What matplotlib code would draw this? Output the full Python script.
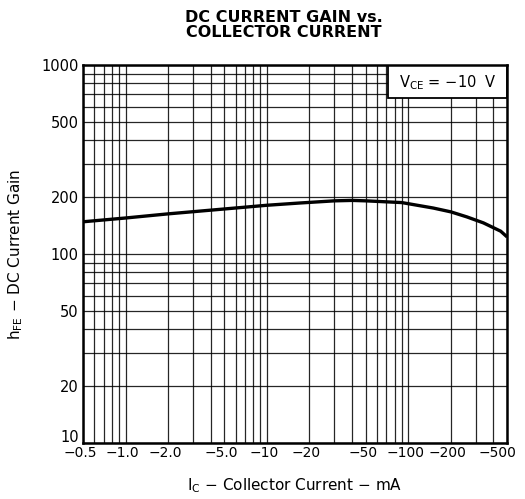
import numpy as np
import matplotlib.pyplot as plt
from matplotlib.patches import Rectangle
from matplotlib.transforms import ScaledTranslation
from matplotlib.ticker import FixedLocator, NullFormatter

# (|Ic| in mA, hFE)
ic = [0.5, 1, 2, 5, 10, 17, 30, 40, 50, 90, 150, 200, 260, 340, 450, 500]
hfe = [148, 155, 163, 173, 181, 186, 191, 192, 191, 187, 175, 167, 157, 146, 132, 123]

xticks = [0.5, 1, 2, 5, 10, 20, 50, 100, 200, 500]
xlabels = ["\u22120.5", "\u22121.0", "\u22122.0", "\u22125.0", "\u221210",
           "\u221220", "\u221250", "\u2212100", "\u2212200", "\u2212500"]
yticks = [10, 20, 50, 100, 200, 500, 1000]

plt.rcParams["font.family"] = ["DejaVu Sans"]
M = "\u2212"

fig = plt.figure(figsize=(5.25, 4.99), dpi=100)
ax = fig.add_axes([0.158, 0.112, 0.808, 0.758])

ax.set_xscale("log")
ax.set_yscale("log")
ax.set_xlim(0.5, 500)
ax.set_ylim(10, 1000)

ax.plot(ic, hfe, color="black", lw=2.4, solid_capstyle="butt", zorder=3)

minor_x = [m * 10.0 ** e for e in range(-1, 3) for m in range(1, 10)]
minor_y = [m * 10.0 ** e for e in range(1, 3) for m in range(1, 10)]
ax.xaxis.set_major_locator(FixedLocator(xticks))
ax.xaxis.set_minor_locator(FixedLocator(minor_x))
ax.yaxis.set_major_locator(FixedLocator(yticks))
ax.yaxis.set_minor_locator(FixedLocator(minor_y))
ax.set_xticklabels(xlabels)
ax.set_yticklabels([str(v) for v in yticks])
ax.xaxis.set_minor_formatter(NullFormatter())
ax.yaxis.set_minor_formatter(NullFormatter())
ax.tick_params(which="both", length=0)
ax.tick_params(axis="x", pad=2, labelsize=10)
ax.tick_params(axis="y", pad=3, labelsize=10.5)

# nudge x labels a little to the left, the last one more so it stays on the page
for i, lab in enumerate(ax.get_xticklabels()):
    dx = -10 if i == len(xticks) - 1 else -3
    lab.set_transform(lab.get_transform() + ScaledTranslation(dx / 100, 0, fig.dpi_scale_trans))
# the bottom "10" sits a bit above the axis line, clear of "-0.5"
lab10 = ax.get_yticklabels()[0]
lab10.set_transform(lab10.get_transform() + ScaledTranslation(0, 7 / 100, fig.dpi_scale_trans))

ax.grid(which="both", color="black", lw=0.9, alpha=0.85)
for s in ax.spines.values():
    s.set_linewidth(1.8)
    s.set_zorder(6)

# condition box in the top-right corner
ax.add_patch(Rectangle((0.72, 0.912), 0.28, 0.088, transform=ax.transAxes,
                       fc="white", ec="black", lw=1.3, zorder=4))
ax.text(0.86, 0.954, r"V$_{\mathrm{CE}}$ = " + M + "10  V", transform=ax.transAxes,
        ha="center", va="center", fontsize=10.5, zorder=5)

ax.set_xlabel(r"I$_{\mathrm{C}}$ " + M + " Collector Current " + M + " mA",
              fontsize=11, labelpad=12)
ax.set_ylabel(r"h$_{\mathrm{FE}}$ " + M + " DC Current Gain", fontsize=11, labelpad=12)

fig.text(0.54, 0.95, "DC CURRENT GAIN vs.\nCOLLECTOR CURRENT", ha="center", va="center",
         fontsize=11.5, fontweight="bold", linespacing=1.0)

fig.savefig("out.png", dpi=100)
